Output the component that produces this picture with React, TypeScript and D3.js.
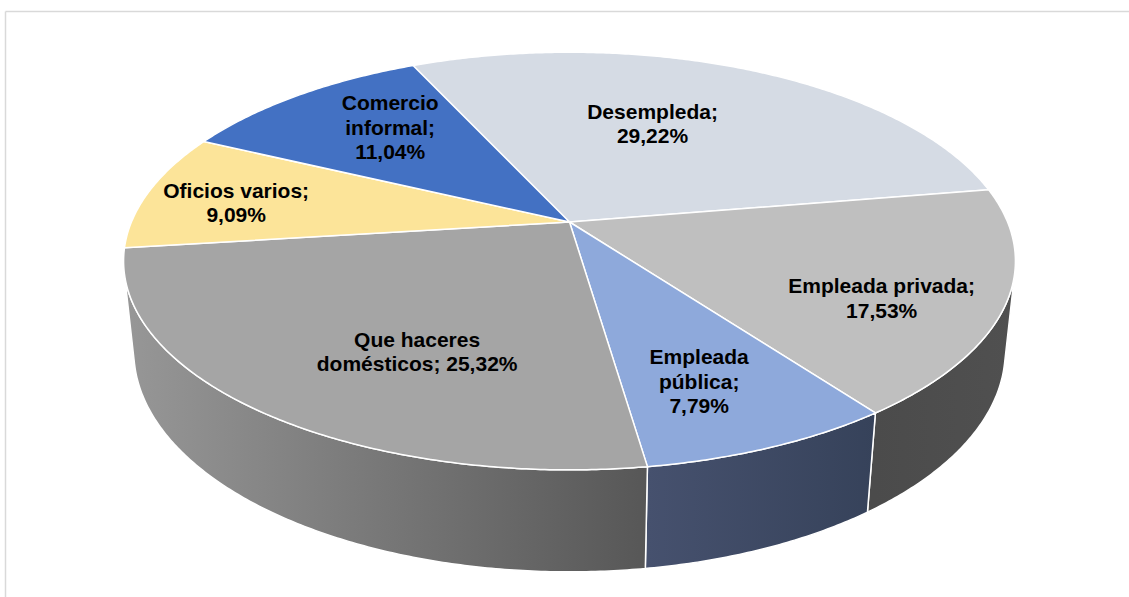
import React from 'react';
import * as d3 from 'd3';

// ---- data ----
const categories = [
  'Desempleada',
  'Empleada privada',
  'Empleada pública',
  'Que haceres domésticos',
  'Oficios varios',
  'Comercio informal',
];
const values = [29.22, 17.53, 7.79, 25.32, 9.09, 11.04];
const labelNameLines = [
  ['Desempleda;'],
  ['Empleada privada;'],
  ['Empleada', 'pública;'],
  ['Que haceres', 'domésticos;'],
  ['Oficios varios;'],
  ['Comercio', 'informal;'],
];
const pctOnLastNameLine = [false, false, false, true, false, false];

// ---- styles / layout ----
const topColors = ['#D5DBE4', '#BFBFBF', '#8EA9DB', '#A5A5A5', '#FCE499', '#4371C3'];
const sideStops = [
  ['#9a9fa8', '#9a9fa8'],
  ['#505050', '#4b4b4b'],
  ['#36425a', '#46516e'],
  ['#575757', '#979797'],
  ['#b8a970', '#b8a970'],
  ['#2f5190', '#2f5190'],
];
// label placement in pie-plane polar terms (radius fraction, angle shift deg)
const labelRadius = [0.577, 0.753, 0.736, 0.652, 0.781, 0.683];
const labelShift = [-6.7, 5.8, 1.85, -8.8, -2.0, 3.5];

const W = 1129;
const Hh = 597;
const F = 2080;
const sinA = 0.46;
const cosA = Math.sqrt(1 - sinA * sinA);
const R = 0.2106;
const THICK = 0.0492;
const CX = 569.5;
const CY = 222;
const START = (-24.7 * Math.PI) / 180;

function proj(phi: number, z: number, r: number = R): [number, number] {
  const x = r * Math.sin(phi);
  const y = r * Math.cos(phi);
  const depth = 1 + y * cosA - z * sinA;
  const v = y * sinA + z * cosA;
  return [CX + (F * x) / depth, CY - (F * v) / depth];
}

function arcPts(a0: number, a1: number, z: number): [number, number][] {
  const n = Math.max(2, Math.ceil((Math.abs(a1 - a0) * 180) / Math.PI / 0.5));
  const pts: [number, number][] = [];
  for (let i = 0; i <= n; i++) {
    const a = a0 + ((a1 - a0) * i) / n;
    pts.push(proj(a, z));
  }
  return pts;
}

const line = d3.line<[number, number]>().x((d) => d[0]).y((d) => d[1]);
const fmt = (v: number) => d3.format('.2f')(v).replace('.', ',') + '%';

export default function App() {
  const pie = d3
    .pie<number>()
    .sort(null)
    .startAngle(START)
    .endAngle(START + 2 * Math.PI)(values);

  const visLo = Math.acos(-R / cosA);
  const visHi = 2 * Math.PI - visLo;

  const sides: React.ReactNode[] = [];
  const defs: React.ReactNode[] = [];
  pie.forEach((p, i) => {
    const a0 = Math.max(p.startAngle, visLo);
    const a1 = Math.min(p.endAngle, visHi);
    if (a1 <= a0) return;
    const top = arcPts(a0, a1, 0);
    const bot = arcPts(a1, a0, -THICK);
    const pts = [...top, ...bot];
    const [x0] = proj(a0, 0);
    const [x1] = proj(a1, 0);
    const id = `sg${i}`;
    defs.push(
      <linearGradient key={id} id={id} gradientUnits="userSpaceOnUse" x1={x0} y1={0} x2={x1} y2={0}>
        <stop offset="0" stopColor={sideStops[i][0]} />
        <stop offset="1" stopColor={sideStops[i][1]} />
      </linearGradient>
    );
    sides.push(
      <path
        key={`s${i}`}
        d={line(pts) + 'Z'}
        fill={`url(#${id})`}
        stroke="#ffffff"
        strokeWidth={1.5}
        strokeLinejoin="round"
      />
    );
  });

  const tops = pie.map((p, i) => {
    const pts: [number, number][] = [[CX, CY], ...arcPts(p.startAngle, p.endAngle, 0)];
    return (
      <path
        key={`t${i}`}
        d={line(pts) + 'Z'}
        fill={topColors[i]}
        stroke="#ffffff"
        strokeWidth={1.5}
        strokeLinejoin="round"
      />
    );
  });

  const lineH = 24.5;
  const labels = pie.map((p, i) => {
    const mid = (p.startAngle + p.endAngle) / 2 + (labelShift[i] * Math.PI) / 180;
    const [lx, ly] = proj(mid, 0, R * labelRadius[i]);
    const names = labelNameLines[i].slice();
    let linesTxt: string[];
    if (pctOnLastNameLine[i]) {
      names[names.length - 1] = names[names.length - 1] + ' ' + fmt(values[i]);
      linesTxt = names;
    } else {
      linesTxt = [...names, fmt(values[i])];
    }
    const n = linesTxt.length;
    const firstBase = ly - ((n - 1) * lineH) / 2 + 7.5;
    return (
      <text
        key={`l${i}`}
        textAnchor="middle"
        fontFamily="Arial, 'Liberation Sans', sans-serif"
        fontWeight="bold"
        fontSize={21}
        fill="#000000"
      >
        {linesTxt.map((t, j) => (
          <tspan key={j} x={lx} y={firstBase + j * lineH}>
            {t}
          </tspan>
        ))}
      </text>
    );
  });

  return (
    <svg
      width={W}
      height={Hh}
      style={{ position: 'absolute', left: 0, top: 0, display: 'block', background: '#ffffff' }}
    >
      <defs>{defs}</defs>
      <rect x={0} y={0} width={W} height={Hh} fill="#ffffff" />
      <line x1={5.5} y1={11.5} x2={W} y2={11.5} stroke="#d9d9d9" strokeWidth={1.5} />
      <line x1={5.5} y1={11.5} x2={5.5} y2={Hh} stroke="#d9d9d9" strokeWidth={1.5} />
      <g>{sides}</g>
      <g>{tops}</g>
      <g>{labels}</g>
    </svg>
  );
}
